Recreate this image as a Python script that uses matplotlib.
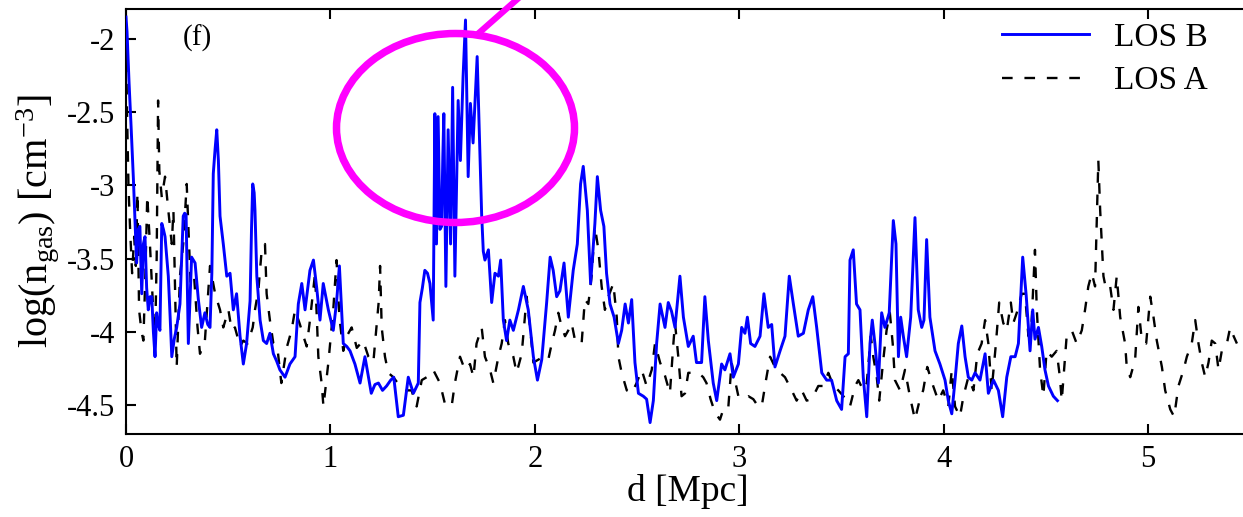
import numpy as np
import matplotlib
matplotlib.use("Agg")
import matplotlib.pyplot as plt
from matplotlib.patches import Ellipse
from matplotlib.lines import Line2D

plt.rcParams['font.family'] = ['Liberation Serif', 'DejaVu Serif']
plt.rcParams['mathtext.fontset'] = 'custom'
plt.rcParams['mathtext.rm'] = 'Liberation Serif'
plt.rcParams['mathtext.it'] = 'Liberation Serif:italic'
plt.rcParams['axes.unicode_minus'] = False

#-----------------------------------------------------------------------------------------
# LOS B (mavi, düz çizgi) - d [Mpc], log(n_gas)
los_b_d = [0.000, 0.005, 0.015, 0.025, 0.036, 0.045, 0.052, 0.060, 0.068, 0.077,
           0.085, 0.093, 0.101, 0.109, 0.118, 0.126, 0.134, 0.142, 0.150, 0.158,
           0.166, 0.175, 0.183, 0.191, 0.207, 0.216, 0.224, 0.236, 0.248, 0.264,
           0.272, 0.280, 0.287, 0.294, 0.305, 0.321, 0.338, 0.354, 0.370, 0.386,
           0.400, 0.411, 0.420, 0.427, 0.436, 0.444, 0.452, 0.460, 0.476, 0.493,
           0.509, 0.525, 0.541, 0.558, 0.574, 0.590, 0.607, 0.614, 0.620, 0.627,
           0.631, 0.640, 0.656, 0.672, 0.688, 0.704, 0.721, 0.737, 0.753, 0.778,
           0.802, 0.827, 0.843, 0.860, 0.876, 0.900, 0.917, 0.933, 0.949, 0.965,
           0.990, 1.014, 1.030, 1.044, 1.063, 1.080, 1.096, 1.120, 1.145, 1.169,
           1.185, 1.200, 1.218, 1.235, 1.255, 1.275, 1.295, 1.310, 1.332, 1.357,
           1.381, 1.406, 1.430, 1.438, 1.450, 1.462, 1.475, 1.487, 1.503, 1.511,
           1.519, 1.527, 1.536, 1.544, 1.550, 1.555, 1.565, 1.576, 1.588, 1.598,
           1.609, 1.617, 1.625, 1.636, 1.649, 1.661, 1.674, 1.685, 1.698, 1.718,
           1.731, 1.740, 1.748, 1.756, 1.773, 1.789, 1.805, 1.822, 1.833, 1.846,
           1.862, 1.878, 1.895, 1.920, 1.944, 1.968, 1.993, 2.013, 2.034, 2.058,
           2.075, 2.090, 2.107, 2.123, 2.143, 2.164, 2.188, 2.208, 2.224, 2.237,
           2.257, 2.273, 2.294, 2.306, 2.322, 2.338, 2.351, 2.368, 2.388, 2.409,
           2.425, 2.442, 2.458, 2.474, 2.490, 2.507, 2.531, 2.547, 2.564, 2.580,
           2.596, 2.613, 2.637, 2.653, 2.669, 2.686, 2.710, 2.727, 2.751, 2.775,
           2.791, 2.816, 2.832, 2.849, 2.873, 2.890, 2.914, 2.930, 2.955, 2.971,
           2.996, 3.012, 3.028, 3.040, 3.056, 3.077, 3.102, 3.121, 3.142, 3.159,
           3.175, 3.200, 3.224, 3.245, 3.265, 3.289, 3.314, 3.338, 3.360, 3.379,
           3.404, 3.428, 3.452, 3.477, 3.501, 3.518, 3.534, 3.542, 3.558, 3.574,
           3.591, 3.607, 3.624, 3.640, 3.651, 3.664, 3.681, 3.697, 3.713, 3.734,
           3.754, 3.767, 3.779, 3.790, 3.803, 3.819, 3.839, 3.860, 3.876, 3.893,
           3.904, 3.917, 3.933, 3.958, 3.982, 4.007, 4.023, 4.040, 4.056, 4.072,
           4.089, 4.105, 4.121, 4.138, 4.154, 4.178, 4.203, 4.219, 4.244, 4.268,
           4.289, 4.309, 4.329, 4.350, 4.366, 4.387, 4.404, 4.423, 4.436, 4.447,
           4.464, 4.480, 4.496, 4.513, 4.537, 4.557]
los_b_n = [-1.85, -1.95, -2.30, -2.60, -2.95, -3.28, -3.53, -3.30, -3.28, -3.74,
           -3.40, -3.35, -3.70, -3.85, -3.76, -3.76, -4.00, -4.17, -3.87, -3.95,
           -3.99, -3.26, -3.30, -3.35, -3.62, -3.90, -4.17, -4.05, -3.97, -3.81,
           -3.50, -3.21, -3.19, -3.20, -4.08, -3.49, -3.53, -3.78, -3.97, -3.87,
           -3.95, -3.97, -3.60, -2.92, -2.75, -2.62, -2.83, -3.21, -3.40, -3.62,
           -3.60, -3.85, -3.74, -4.03, -4.22, -4.08, -3.79, -3.30, -2.99, -3.05,
           -3.17, -3.62, -3.92, -4.06, -4.08, -4.01, -4.15, -4.20, -4.26, -4.31,
           -4.22, -4.17, -3.81, -3.67, -3.85, -3.58, -3.51, -3.70, -3.92, -3.67,
           -3.85, -3.99, -3.80, -3.55, -4.08, -4.10, -4.13, -4.22, -4.35, -4.17,
           -4.30, -4.42, -4.36, -4.35, -4.40, -4.37, -4.33, -4.31, -4.58, -4.57,
           -4.31, -4.42, -4.35, -3.80, -3.70, -3.58, -3.60, -3.67, -3.92, -2.51,
           -3.40, -2.53, -3.30, -3.28, -2.80, -2.51, -3.69, -2.62, -3.40, -2.33,
           -3.62, -3.00, -2.42, -2.83, -2.26, -1.87, -2.94, -2.44, -2.71, -2.12,
           -2.76, -3.20, -3.45, -3.51, -3.44, -3.80, -3.60, -3.62, -3.51, -3.92,
           -4.06, -3.92, -3.99, -3.85, -3.69, -3.85, -4.17, -4.33, -4.19, -3.80,
           -3.49, -3.58, -3.76, -3.72, -3.53, -3.90, -3.58, -3.40, -2.99, -2.87,
           -3.17, -3.67, -3.26, -2.94, -3.17, -3.28, -3.60, -3.81, -3.90, -4.08,
           -3.99, -3.81, -3.94, -3.78, -4.21, -4.42, -4.44, -4.46, -4.62, -4.47,
           -4.08, -3.81, -3.97, -3.80, -3.86, -3.97, -3.62, -3.90, -4.10, -4.03,
           -4.21, -4.21, -3.76, -4.06, -4.35, -4.47, -4.22, -4.26, -4.15, -4.31,
           -4.22, -3.97, -4.01, -3.90, -4.08, -4.10, -4.03, -3.74, -3.97, -3.95,
           -4.24, -4.13, -4.03, -3.62, -3.81, -4.03, -4.01, -3.85, -3.76, -3.97,
           -4.28, -4.33, -4.33, -4.47, -4.53, -4.17, -4.15, -3.51, -3.44, -3.81,
           -3.85, -4.31, -4.58, -4.08, -3.92, -4.08, -4.35, -3.87, -3.97, -3.87,
           -3.24, -3.40, -4.17, -3.90, -4.03, -4.17, -3.90, -3.22, -3.85, -3.97,
           -3.92, -3.37, -3.90, -4.13, -4.22, -4.33, -4.47, -4.56, -4.33, -4.08,
           -3.96, -4.17, -4.31, -4.33, -4.28, -4.33, -4.15, -4.42, -4.33, -4.40,
           -4.58, -4.31, -4.17, -4.17, -4.08, -3.49, -3.75, -4.13, -3.85, -4.05,
           -3.97, -4.10, -4.26, -4.37, -4.44, -4.47]

# LOS A (siyah, kesikli çizgi)
los_a_d = [0.000, 0.005, 0.012, 0.020, 0.030, 0.040, 0.048, 0.056, 0.064, 0.076,
           0.085, 0.095, 0.104, 0.117, 0.133, 0.142, 0.150, 0.157, 0.163, 0.175,
           0.191, 0.207, 0.224, 0.232, 0.248, 0.264, 0.280, 0.297, 0.305, 0.316,
           0.333, 0.350, 0.362, 0.386, 0.411, 0.436, 0.460, 0.476, 0.501, 0.517,
           0.533, 0.558, 0.574, 0.595, 0.620, 0.631, 0.648, 0.664, 0.680, 0.688,
           0.704, 0.721, 0.740, 0.760, 0.786, 0.810, 0.827, 0.851, 0.868, 0.884,
           0.900, 0.925, 0.941, 0.957, 0.966, 0.990, 1.014, 1.030, 1.044, 1.063,
           1.080, 1.104, 1.129, 1.160, 1.186, 1.210, 1.236, 1.243, 1.251, 1.267,
           1.283, 1.308, 1.340, 1.373, 1.397, 1.422, 1.447, 1.471, 1.503, 1.536,
           1.560, 1.593, 1.609, 1.634, 1.658, 1.683, 1.700, 1.715, 1.740, 1.756,
           1.781, 1.797, 1.822, 1.838, 1.854, 1.870, 1.895, 1.911, 1.936, 1.960,
           1.977, 1.993, 2.017, 2.042, 2.066, 2.083, 2.099, 2.115, 2.132, 2.148,
           2.164, 2.180, 2.197, 2.213, 2.229, 2.245, 2.262, 2.278, 2.294, 2.311,
           2.327, 2.343, 2.360, 2.384, 2.401, 2.409, 2.425, 2.450, 2.474, 2.498,
           2.523, 2.547, 2.572, 2.588, 2.613, 2.637, 2.661, 2.678, 2.686, 2.702,
           2.718, 2.735, 2.751, 2.775, 2.800, 2.824, 2.840, 2.860, 2.881, 2.906,
           2.922, 2.946, 2.963, 2.979, 2.996, 3.020, 3.045, 3.069, 3.093, 3.110,
           3.131, 3.151, 3.175, 3.200, 3.224, 3.257, 3.281, 3.306, 3.330, 3.355,
           3.387, 3.412, 3.436, 3.461, 3.485, 3.510, 3.542, 3.567, 3.583, 3.607,
           3.624, 3.644, 3.656, 3.673, 3.685, 3.705, 3.721, 3.737, 3.751, 3.762,
           3.787, 3.811, 3.835, 3.860, 3.884, 3.900, 3.920, 3.949, 3.974, 3.998,
           4.023, 4.040, 4.056, 4.080, 4.097, 4.121, 4.146, 4.165, 4.186, 4.203,
           4.219, 4.235, 4.256, 4.272, 4.292, 4.309, 4.329, 4.341, 4.358, 4.382,
           4.398, 4.415, 4.430, 4.447, 4.456, 4.472, 4.488, 4.504, 4.529, 4.553,
           4.569, 4.578, 4.602, 4.627, 4.651, 4.676, 4.692, 4.708, 4.725, 4.741,
           4.757, 4.766, 4.774, 4.782, 4.795, 4.815, 4.831, 4.847, 4.864, 4.888,
           4.896, 4.913, 4.937, 4.953, 4.970, 4.991, 5.011, 5.027, 5.043, 5.068,
           5.084, 5.109, 5.128, 5.149, 5.174, 5.190, 5.214, 5.231, 5.247, 5.263,
           5.280, 5.296, 5.312, 5.329, 5.345, 5.361, 5.386, 5.402, 5.419, 5.435]
los_a_n = [-2.00, -2.50, -3.00, -3.30, -3.60, -3.35, -3.55, -3.05, -3.85, -4.00,
           -4.06, -3.60, -3.07, -3.40, -3.85, -4.08, -3.50, -2.42, -2.90, -3.08,
           -2.94, -3.17, -3.40, -3.17, -4.24, -3.62, -3.40, -2.99, -3.28, -3.67,
           -3.62, -3.97, -4.15, -4.06, -3.55, -3.74, -3.85, -3.97, -3.85, -3.99,
           -3.97, -4.10, -4.06, -4.08, -3.97, -3.85, -3.71, -3.44, -3.40, -3.74,
           -3.92, -4.08, -4.10, -4.35, -4.11, -3.99, -3.85, -3.95, -4.03, -4.10,
           -3.92, -3.60, -4.17, -4.35, -4.51, -4.21, -3.85, -3.51, -3.90, -4.13,
           -4.03, -3.97, -4.11, -4.06, -4.17, -4.21, -3.80, -3.55, -3.97, -4.17,
           -4.28, -4.31, -4.37, -4.40, -4.40, -4.51, -4.33, -4.31, -4.26, -4.35,
           -4.49, -4.51, -4.35, -4.17, -4.26, -4.22, -4.31, -4.08, -3.97, -4.17,
           -4.26, -4.35, -4.17, -4.08, -3.92, -4.08, -4.17, -4.28, -4.15, -3.76,
           -3.97, -4.21, -4.19, -4.17, -4.19, -4.08, -3.99, -3.87, -3.97, -4.03,
           -3.99, -3.94, -4.06, -4.08, -4.08, -3.78, -3.81, -3.62, -3.28, -3.44,
           -3.69, -3.85, -3.76, -3.67, -3.90, -4.17, -4.28, -4.40, -4.42, -4.35,
           -4.26, -4.37, -4.26, -4.08, -4.21, -4.30, -4.42, -4.08, -3.94, -4.17,
           -4.44, -4.42, -4.28, -4.28, -4.28, -4.31, -4.35, -4.46, -4.55, -4.60,
           -4.53, -4.53, -4.21, -4.33, -4.44, -4.46, -4.44, -4.46, -4.51, -4.51,
           -4.33, -4.17, -4.24, -4.28, -4.31, -4.40, -4.47, -4.40, -4.47, -4.46,
           -4.37, -4.37, -4.28, -4.37, -4.40, -4.44, -4.51, -4.37, -4.33, -4.40,
           -4.35, -4.03, -4.17, -4.31, -4.47, -4.19, -3.99, -3.87, -4.08, -4.33,
           -4.40, -4.26, -4.44, -4.60, -4.46, -4.40, -4.24, -4.37, -4.47, -4.40,
           -4.51, -4.26, -4.51, -4.58, -4.44, -4.31, -4.40, -4.15, -4.08, -3.92,
           -4.08, -4.40, -4.08, -3.80, -3.94, -3.99, -3.80, -3.94, -3.87, -3.74,
           -3.74, -4.03, -3.95, -3.44, -3.85, -4.26, -4.44, -4.13, -4.17, -4.13,
           -4.31, -4.47, -4.03, -3.99, -4.08, -3.99, -3.85, -3.69, -3.60, -3.69,
           -2.83, -3.17, -3.40, -3.62, -3.71, -3.69, -3.85, -3.62, -3.90, -4.08,
           -4.24, -4.31, -4.19, -3.83, -4.06, -4.08, -3.76, -3.90, -4.06, -4.24,
           -4.40, -4.53, -4.58, -4.37, -4.26, -4.17, -4.08, -3.92, -4.08, -4.21,
           -4.31, -4.21, -4.06, -4.08, -4.26, -4.13, -4.08, -3.97, -4.03, -4.08]

x_ticks = [0, 1, 2, 3, 4, 5]
y_ticks = [-4.5, -4, -3.5, -3, -2.5, -2]
y_tick_labels = ['-4.5', '-4', '-3.5', '-3', '-2.5', '-2']
#-----------------------------------------------------------------------------------------

W, H = 1243, 517
fig = plt.figure(figsize=(W / 100, H / 100), dpi=100)
ax_left, ax_right, ax_top, ax_bot = 126, 1249, 9, 434
ax = fig.add_axes([ax_left / W, 1 - ax_bot / H, (ax_right - ax_left) / W, (ax_bot - ax_top) / H])

ax.plot(los_b_d, los_b_n, color='#0000ff', lw=2.1, label='LOS B', zorder=3)
ax.plot(los_a_d, los_a_n, color='black', lw=1.7, dashes=(4.5, 5), label='LOS A', zorder=2)

ax.set_xlim(0, (ax_right - ax_left) / 204.4)
ax.set_ylim(-4.698, -1.795)
ax.set_xticks(x_ticks)
ax.set_xticklabels([str(t) for t in x_ticks])
ax.set_yticks(y_ticks)
ax.set_yticklabels(y_tick_labels)
ax.tick_params(direction='in', length=7, width=1.5, labelsize=22, pad=8, top=True, right=False)
for s in ax.spines.values():
    s.set_linewidth(1.5)

ax.set_xlabel('d [Mpc]', fontsize=27, labelpad=0)
ax.set_ylabel(r'log(n$_{\rm gas}$) [cm$^{-3}$]', fontsize=29, labelpad=4)

ax.text((197 - ax_left) / (ax_right - ax_left), (ax_bot - 38) / (ax_bot - ax_top), '(f)',
        transform=ax.transAxes, fontsize=21, ha='center', va='center')

ax.legend(loc='upper left', bbox_to_anchor=(1002 / W, 1 - 22 / H), bbox_transform=fig.transFigure,
          frameon=False, fontsize=24, handlelength=2.6, handletextpad=0.75, labelspacing=0.4,
          borderpad=0, borderaxespad=0)

# Magenta işaretleme
fig.add_artist(Ellipse((455.5 / W, 1 - 128 / H), 238 / W, 189 / H, transform=fig.transFigure,
                       fill=False, edgecolor='#ff00ff', lw=5.4, zorder=5))
fig.add_artist(Line2D([480 / W, 530 / W], [1 - 32 / H, 1 + 12 / H], transform=fig.transFigure,
                      color='#ff00ff', lw=4.5, zorder=5))

fig.savefig('out.png', dpi=100)
